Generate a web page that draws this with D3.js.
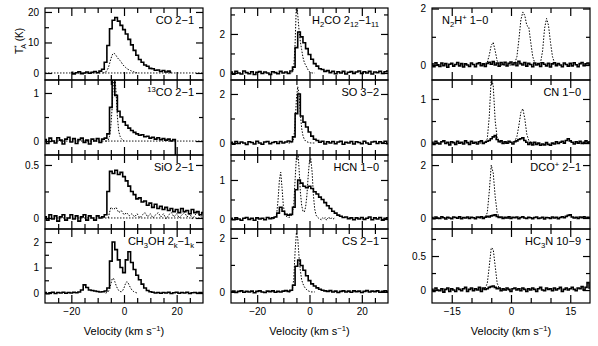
<!DOCTYPE html>
<html>
<head>
<meta charset="utf-8">
<script src="https://cdn.jsdelivr.net/npm/d3@7"></script>
<style>
  body { margin: 0; background: #fff; }
  svg { display: block; font-family: 'Liberation Sans', Arial, sans-serif; }
</style>
</head>
<body>
<div id="main"></div>
<script>
// tick labels on the velocity axes
const velLabels12 = [-20, 0, 20]
const velLabels3 = [-15, 0, 15]

// --- spectra (T_A* in K), solid = one position, dotted = the other ---
// CO 2-1, solid from -20 km/s, 1 km/s channels
const co21 = [0.2, -0.3, 0.1, 0.4, -0.2, 0.0, 0.3, -0.1, 0.2, 0.5,
  0.1, 0.6, 1.2, 3.5, 9.0, 14.5, 17.3, 18.2, 17.0, 15.6,
  14.2, 12.8, 11.0, 9.2, 7.4, 5.8, 4.4, 3.5, 2.6, 2.2,
  1.5, 1.4, 0.9, 1.0, 0.5, 0.8, 0.3, 0.6, 0.2]
// dotted from -8 km/s, 0.5 km/s
const co21Dot = [0, 0.1, 0.3, 0.8, 1.6, 3.0, 4.6, 5.9, 6.5, 6.3,
  5.7, 5.0, 4.5, 4.1, 3.5, 2.8, 2.3, 1.9, 1.5, 1.2,
  1.0, 0.8, 0.6, 0.45, 0.3, 0.15, 0]

// 13CO 2-1, solid from -30
const co13 = [0.03, -0.05, 0.06, 0.0, -0.04, 0.07, 0.02, -0.06, 0.04, 0.08,
  -0.02, 0.05, -0.05, 0.03, 0.06, -0.03, 0.02, -0.06, 0.04, 0.0,
  0.05, -0.03, 0.04, 0.06, 0.15, 0.7, 1.4, 0.95, 0.62, 0.5,
  0.4, 0.33, 0.27, 0.22, 0.18, 0.15, 0.12, 0.13, 0.09, 0.1,
  0.06, 0.08, 0.04, 0.07, 0.03, 0.05, 0.02, 0.04, 0.0, 0.03,
  -0.4]
const co13Dot = [0, 0, 0.02, 0.1, 0.3, 0.7, 1.3, 1.4, 1.0, 0.5, 0.2, 0.1, 0.05, 0.02, 0]

// SiO 2-1
const sio = [0.01, -0.02, 0.03, -0.01, 0.02, -0.03, 0.01, 0.03, -0.02, 0.0,
  0.03, -0.01, 0.02, -0.03, 0.01, 0.03, -0.02, 0.02, 0.0, -0.02,
  0.02, 0.0, 0.01, 0.03, 0.25, 0.44, 0.42, 0.45, 0.41, 0.43,
  0.39, 0.35, 0.30, 0.25, 0.22, 0.18, 0.19, 0.15, 0.16, 0.12,
  0.14, 0.1, 0.13, 0.09, 0.11, 0.08, 0.1, 0.07, 0.09, 0.06,
  0.08, 0.05, 0.09, 0.06, 0.07, 0.04, 0.08, 0.05, 0.06, 0.03,
  0.05]
// dotted from -6, 1 km/s
const sioDot = [0.0, 0.1, 0.08, 0.1, 0.05, 0.07, 0.03, 0.05, 0.02, 0.04,
  0.01, 0.04, 0.0, 0.03, 0.05, 0.01, 0.04, 0.0, 0.03, 0.05,
  0.01, 0.04, -0.01, 0.03, 0.05, 0.01, 0.04, 0.0, 0.03, 0.05,
  0.01, 0.04, -0.01, 0.03, 0.05, 0.01, 0.03]

// CH3OH 2k-1k
const ch3oh = [0.02, -0.03, 0.01, 0.03, -0.02, 0.02, 0.0, 0.03, -0.01, 0.02,
  0.0, 0.03, 0.01, 0.04, 0.12, 0.32, 0.22, 0.12, 0.1, 0.08,
  0.06, 0.04, 0.05, 0.08, 0.2, 1.25, 2.0, 1.7, 1.3, 1.0,
  0.8, 1.3, 1.62, 1.2, 0.92, 0.7, 0.52, 0.35, 0.2, 0.1,
  0.05, 0.03, 0.0, 0.02, -0.01, 0.02, 0.0, 0.03, -0.02, 0.01,
  0.03, -0.01, 0.02, 0.0, 0.03, -0.02, 0.01, 0.02, -0.01, 0.02,
  0.0]
// dotted from -7, 0.5 km/s
const ch3ohDot = [0, 0.02, 0.05, 0.15, 0.35, 0.55, 0.58, 0.45, 0.3, 0.18,
  0.1, 0.06, 0.05, 0.1, 0.2, 0.35, 0.44, 0.42, 0.3, 0.2,
  0.12, 0.07, 0.04, 0.02, 0]

// H2CO 2(12)-1(11)
const h2co = [0.05, -0.06, 0.08, 0.0, -0.05, 0.1, 0.02, -0.04, 0.06, -0.08,
  0.04, 0.07, -0.03, 0.05, 0.0, -0.07, 0.06, 0.02, -0.04, 0.08,
  0.0, 0.05, -0.03, 0.1, 0.3, 1.3, 2.1, 1.85, 1.55, 1.25,
  0.95, 0.7, 0.48, 0.35, 0.22, 0.18, 0.08, 0.12, 0.02, 0.09,
  -0.04, 0.06, 0.0, 0.08, -0.05, 0.04, 0.07, -0.02, 0.05, 0.1,
  -0.03, 0.06, 0.0, 0.08, -0.05, 0.05, 0.02, 0.09, -0.03, 0.06,
  0.1]
const h2coDot = [0, 0, 0, 0.05, 0.3, 1.5, 3.6, 3.0, 2.2, 1.6,
  1.2, 0.8, 0.55, 0.4, 0.28, 0.15, 0.06, 0.02, 0, 0, 0]

// SO 3-2
const so = [0.03, -0.05, 0.06, -0.02, 0.04, 0.0, -0.06, 0.05, 0.02, -0.04,
  0.07, 0.0, -0.05, 0.04, 0.06, -0.03, 0.02, 0.05, -0.02, 0.06,
  0.0, 0.04, 0.08, 0.05, 0.25, 1.2, 2.0, 1.1, 0.85, 0.65,
  0.45, 0.28, 0.15, 0.1, 0.03, 0.07, -0.04, 0.05, 0.0, 0.06,
  -0.03, 0.04, 0.07, -0.05, 0.03, 0.0, 0.06, -0.04, 0.05, 0.02,
  -0.03, 0.07, 0.0, -0.05, 0.04, 0.06, -0.02, 0.05, 0.0, 0.07,
  -0.03]
const soDot = [0, 0, 0, 0.05, 0.2, 0.8, 1.8, 2.3, 2.0, 1.2,
  0.6, 0.3, 0.15, 0.08, 0.05, 0.03, 0.02, 0, 0, 0, 0]

// HCN 1-0
const hcn = [0.02, -0.02, 0.03, 0.0, -0.03, 0.02, 0.04, -0.01, 0.02, -0.03,
  0.03, 0.0, 0.02, -0.02, 0.04, 0.01, 0.03, 0.05, 0.15, 0.3,
  0.2, 0.12, 0.1, 0.12, 0.3, 0.75, 1.0, 0.92, 0.84, 0.8,
  0.84, 0.78, 0.7, 0.64, 0.56, 0.5, 0.42, 0.34, 0.27, 0.2,
  0.15, 0.1, 0.07, 0.04, 0.05, 0.01, 0.03, -0.02, 0.03, 0.0,
  0.04, -0.01, 0.02, 0.05, -0.02, 0.03, 0.0, 0.04, -0.03, 0.02,
  0.03]
// dotted from -14, 0.5 km/s
const hcnDot = [0, 0.02, 0.05, 0.15, 0.5, 1.0, 1.2, 0.8, 0.35,
  0.15, 0.08, 0.05, 0.04, 0.05, 0.08, 0.15, 0.4, 1.0, 1.6,
  1.8, 1.3, 0.7, 0.35, 0.2, 0.18, 0.3, 0.6, 1.1, 1.5,
  1.55, 1.2, 0.6, 0.25, 0.1, 0.05, 0.02, 0.0, -0.02, 0.03,
  0.0, 0.04, -0.03, 0.02, 0.05, -0.01, 0.03, 0.0, 0.02, 0.0]

// CS 2-1
const cs = [0.0, 0.03, -0.02, 0.02, 0.04, -0.01, 0.02, 0.0, 0.03, -0.03,
  0.02, 0.04, 0.0, -0.02, 0.03, 0.01, 0.04, -0.01, 0.02, 0.0,
  0.03, 0.05, 0.02, 0.06, 0.25, 0.95, 1.18, 0.98, 0.8, 0.6,
  0.42, 0.3, 0.22, 0.15, 0.1, 0.06, 0.04, 0.02, 0.05, 0.0,
  0.03, -0.02, 0.02, 0.04, 0.0, 0.03, -0.01, 0.04, 0.01, 0.03,
  -0.02, 0.02, 0.05, 0.0, 0.03, 0.01, 0.04, -0.01, 0.02, 0.04,
  0.0]
const csDot = [0, 0, 0.02, 0.1, 0.5, 1.5, 2.2, 2.0, 1.3, 0.8,
  0.45, 0.3, 0.2, 0.12, 0.08, 0.04, 0.02, 0, 0, 0, 0]

// third column: solid from -20 km/s, 0.5 km/s channels
const n2h = [0.04, -0.06, 0.08, 0.01, -0.05, 0.07, -0.02, 0.05, -0.08, 0.03,
  0.06, -0.04, 0.02, 0.09, -0.03, 0.05, -0.07, 0.04, 0.0, -0.05,
  0.07, 0.02, -0.06, 0.05, 0.08, -0.02, 0.04, -0.05, 0.06, 0.1,
  0.03, 0.12, 0.0, 0.07, -0.04, 0.09, 0.02, 0.1, -0.03, 0.06,
  0.11, 0.01, 0.08, -0.02, 0.13, 0.05, 0.0, 0.09, -0.04, 0.06,
  0.02, -0.06, 0.07, 0.0, 0.05, -0.05, 0.08, 0.03, -0.03, 0.06,
  -0.07, 0.04, 0.08, -0.02, 0.05, 0.0, -0.06, 0.07, 0.02, -0.04,
  0.06, -0.03, 0.08, 0.01, -0.06, 0.05, 0.09, -0.02, 0.04, 0.07,
  0.0]
// dotted from -8, 0.5 km/s
const n2hDot = [0, 0, 0, 0.02, 0.1, 0.35, 0.7, 0.8, 0.5, 0.15,
  0.03, 0, 0, 0, 0, 0, 0, 0.02, 0.08, 0.3,
  0.9, 1.6, 1.88, 1.75, 1.4, 1.35, 0.8, 0.3, 0.08, 0.02,
  0.02, 0.1, 0.5, 1.3, 1.65, 1.4, 0.8, 0.3, 0.08, 0.02,
  0]

const cn = [0.02, -0.03, 0.04, 0.0, -0.02, 0.03, 0.05, -0.01, 0.02, -0.04,
  0.03, 0.01, -0.03, 0.04, 0.0, 0.02, -0.02, 0.05, 0.01, -0.03,
  0.04, 0.0, 0.02, -0.02, 0.03, 0.05, -0.01, 0.02, 0.04, 0.06,
  0.1, 0.14, 0.17, 0.08, 0.03, 0.05, -0.01, 0.03, 0.0, 0.04,
  0.02, -0.02, 0.03, 0.05, 0.08, 0.1, 0.12, 0.06, 0.02, -0.03,
  0.01, -0.04, 0.02, -0.03, 0.0, -0.05, -0.02, -0.04, 0.01, -0.03,
  -0.05, 0.0, -0.02, 0.03, -0.01, 0.02, 0.04, 0.0, 0.06, 0.1,
  0.05, 0.02, -0.02, 0.03, 0.0, 0.04, -0.01, 0.02, 0.05, 0.01,
  0.03]
const cnDot = [0, 0, 0, 0.02, 0.1, 0.6, 1.5, 1.3, 0.5, 0.12,
  0.03, 0, 0, 0, 0, 0, 0, 0.02, 0.05, 0.15,
  0.4, 0.7, 0.78, 0.55, 0.2, 0.06, 0.02, 0, 0]

const dco = [0.02, -0.03, 0.04, 0.0, -0.02, 0.05, 0.01, -0.04, 0.03, 0.0,
  -0.03, 0.04, 0.02, -0.01, 0.05, -0.03, 0.02, 0.0, 0.04, -0.02,
  0.03, 0.01, -0.03, 0.04, 0.02, 0.05, -0.02, 0.03, 0.06, 0.04,
  0.08, 0.1, 0.12, 0.06, 0.02, 0.04, -0.02, 0.03, 0.0, 0.05,
  -0.02, 0.03, 0.01, 0.04, -0.03, 0.02, 0.05, 0.0, -0.02, 0.03,
  0.01, -0.03, 0.02, 0.04, -0.02, 0.0, 0.03, -0.04, 0.02, 0.01,
  -0.02, 0.04, 0.0, 0.03, -0.03, 0.02, 0.05, 0.01, 0.06, 0.1,
  0.12, 0.04, 0.0, 0.03, -0.02, 0.04, 0.01, 0.05, -0.01, 0.03,
  0.0]
const dcoDot = [0, 0, 0.02, 0.05, 0.2, 1.0, 2.0, 1.7, 0.8, 0.2,
  0.05, 0.01, 0, 0, 0, 0, 0]

const hc3n = [0.01, -0.02, 0.03, 0.0, -0.01, 0.02, -0.03, 0.01, 0.03, -0.02,
  0.02, 0.0, -0.02, 0.03, 0.01, -0.01, 0.02, 0.04, -0.02, 0.01,
  0.03, -0.01, 0.02, 0.0, 0.04, -0.02, 0.03, 0.01, 0.02, 0.04,
  0.05, 0.06, 0.04, 0.02, 0.03, -0.01, 0.02, 0.0, 0.03, 0.01,
  -0.02, 0.02, 0.03, 0.0, 0.02, -0.01, 0.03, 0.01, -0.02, 0.02,
  0.0, 0.03, 0.01, -0.02, 0.02, 0.04, 0.0, -0.01, 0.03, 0.01,
  0.02, -0.01, 0.03, 0.0, 0.02, 0.04, -0.02, 0.01, 0.03, 0.0,
  0.02, 0.04, 0.01, -0.01, 0.03, 0.02, 0.05, 0.0, 0.04, 0.11,
  0.03]
const hc3nDot = [0, 0, 0.01, 0.03, 0.1, 0.35, 0.62, 0.6, 0.35, 0.1,
  0.03, 0.01, 0, 0, 0, 0, 0]

// layout
const columns = [
  { x0: 45, x1: 203, domain: [-30, 30], major: velLabels12, minor: [-25, -15, -10, -5, 5, 10, 15, 25], labels: velLabels12 },
  { x0: 231, x1: 388, domain: [-30, 30], major: velLabels12, minor: [-25, -15, -10, -5, 5, 10, 15, 25], labels: velLabels12 },
  { x0: 432, x1: 590, domain: [-20, 20], major: velLabels3, minor: [-10, -5, 5, 10], labels: velLabels3 }
]
const rows = [8, 80, 155, 229, 303]

// solid/dotted: [values, first velocity, channel width]
const panels = [
  { col: 0, row: 0, label: 'CO 2−1', y: [-2.3, 21.3], ticks: [0, 10, 20], minor: [5, 15], solid: [co21, -20, 1], dotted: [co21Dot, -8, 0.5], zero: true },
  { col: 0, row: 1, label: '^{13}CO 2−1', y: [-0.29, 1.27], ticks: [0, 1], minor: [0.5], solid: [co13, -30, 1], dotted: [co13Dot, -7, 0.5], zero: true },
  { col: 0, row: 2, label: 'SiO 2−1', y: [-0.104, 0.594], ticks: [0, 0.5], minor: [0.25], solid: [sio, -30, 1], dotted: [sioDot, -6, 1], zero: true },
  { col: 0, row: 3, label: 'CH_3OH 2_k−1_k', y: [-0.39, 2.51], ticks: [0, 1, 2], minor: [0.5, 1.5], solid: [ch3oh, -30, 1], dotted: [ch3ohDot, -7, 0.5] },
  { col: 1, row: 0, label: 'H_2CO 2_{12}−1_{11}', y: [-0.36, 3.33], ticks: [0, 2], minor: [1, 3], solid: [h2co, -30, 1], dotted: [h2coDot, -8, 0.5] },
  { col: 1, row: 1, label: 'SO 3−2', y: [-0.49, 2.57], ticks: [0, 2], minor: [1], solid: [so, -30, 1], dotted: [soDot, -8, 0.5] },
  { col: 1, row: 2, label: 'HCN 1−0', y: [-0.256, 1.64], ticks: [0, 1], minor: [0.5, 1.5], solid: [hcn, -30, 1], dotted: [hcnDot, -14, 0.5] },
  { col: 1, row: 3, label: 'CS 2−1', y: [-0.41, 2.33], ticks: [0, 2], minor: [1], solid: [cs, -30, 1], dotted: [csDot, -8, 0.5] },
  { col: 2, row: 0, label: 'N_2H^+ 1−0', y: [-0.53, 2.02], ticks: [0, 2], minor: [1], solid: [n2h, -20, 0.5], dotted: [n2hDot, -8, 0.5], left: true },
  { col: 2, row: 1, label: 'CN 1−0', y: [-0.27, 1.43], ticks: [0, 1], minor: [0.5], solid: [cn, -20, 0.5], dotted: [cnDot, -8, 0.5] },
  { col: 2, row: 2, label: 'DCO^+ 2−1', y: [-0.415, 2.38], ticks: [0, 2], minor: [1], solid: [dco, -20, 0.5], dotted: [dcoDot, -8, 0.5] },
  { col: 2, row: 3, label: 'HC_3N 10−9', y: [-0.19, 0.897], ticks: [0, 0.5], minor: [0.25, 0.75], solid: [hc3n, -20, 0.5], dotted: [hc3nDot, -8, 0.5] }
]

const fmt = d => (d < 0 ? '−' : '') + Math.abs(d)

// text with _sub and ^sup parts, e.g. 'H_2CO 2_{12}'
function richText (text, str, size) {
  const parts = str.match(/[_^](\{[^}]*\}|.)|[^_^]+/g)
  let shift = 0
  parts.forEach(s => {
    let mode = 0
    let t = s
    if (s[0] === '_' || s[0] === '^') {
      mode = s[0] === '_' ? 3 : -4
      t = s.slice(1).replace(/[{}]/g, '')
    }
    text.append('tspan')
      .attr('dy', mode - shift)
      .attr('font-size', mode ? size * 0.7 : size)
      .text(t)
    shift = mode
  })
}

const svg = d3.select('#main').append('svg')
  .attr('width', 598)
  .attr('height', 346)

const toPoints = ([vals, v0, dv]) => vals.map((t, k) => [v0 + k * dv, t])

panels.forEach((p, i) => {
  const c = columns[p.col]
  const top = rows[p.row]
  const bottom = rows[p.row + 1]
  const x = d3.scaleLinear().domain(c.domain).range([c.x0, c.x1])
  const y = d3.scaleLinear().domain(p.y).range([bottom, top])
  const g = svg.append('g')

  g.append('clipPath').attr('id', 'clip' + i)
    .append('rect')
    .attr('x', c.x0).attr('y', top)
    .attr('width', c.x1 - c.x0).attr('height', bottom - top)
  const plot = g.append('g').attr('clip-path', `url(#clip${i})`)

  if (p.zero) {
    plot.append('line')
      .attr('x1', x(c.domain[0])).attr('x2', x(c.domain[1]))
      .attr('y1', y(0)).attr('y2', y(0))
      .attr('stroke', '#000').attr('stroke-width', 0.9)
      .attr('stroke-dasharray', '1.5,1.5')
  }

  const line = d3.line().x(d => x(d[0])).y(d => y(d[1]))
  plot.append('path')
    .datum(toPoints(p.dotted))
    .attr('d', line)
    .attr('fill', 'none')
    .attr('stroke', '#000')
    .attr('stroke-width', 1)
    .attr('stroke-dasharray', '1.5,1.5')
  plot.append('path')
    .datum(toPoints(p.solid))
    .attr('d', line.curve(d3.curveStep))
    .attr('fill', 'none')
    .attr('stroke', '#000')
    .attr('stroke-width', 1.6)

  // axes: ticks point inwards on all four sides
  const clean = a => a.call(s => s.select('.domain').remove())
    .attr('font-family', null).attr('font-size', 10)
    .call(s => s.selectAll('line').attr('stroke-width', 1.2))
  const isBottom = p.row === rows.length - 2

  clean(g.append('g').attr('transform', `translate(0,${bottom})`)
    .call(d3.axisBottom(x).tickValues(c.major).tickSize(-8).tickPadding(5)
      .tickFormat(d => isBottom && c.labels.includes(d) ? fmt(d) : '')))
  clean(g.append('g').attr('transform', `translate(0,${bottom})`)
    .call(d3.axisBottom(x).tickValues(c.minor).tickSize(-5).tickFormat('')))
  clean(g.append('g').attr('transform', `translate(0,${top})`)
    .call(d3.axisTop(x).tickValues(c.major).tickSize(-8).tickFormat('')))
  clean(g.append('g').attr('transform', `translate(0,${top})`)
    .call(d3.axisTop(x).tickValues(c.minor).tickSize(-5).tickFormat('')))

  clean(g.append('g').attr('transform', `translate(${c.x0},0)`)
    .call(d3.axisLeft(y).tickValues(p.ticks).tickSize(-7).tickPadding(6).tickFormat(fmt)))
  clean(g.append('g').attr('transform', `translate(${c.x0},0)`)
    .call(d3.axisLeft(y).tickValues(p.minor).tickSize(-4).tickFormat('')))
  clean(g.append('g').attr('transform', `translate(${c.x1},0)`)
    .call(d3.axisRight(y).tickValues(p.ticks).tickSize(-7).tickFormat('')))
  clean(g.append('g').attr('transform', `translate(${c.x1},0)`)
    .call(d3.axisRight(y).tickValues(p.minor).tickSize(-4).tickFormat('')))

  g.append('rect')
    .attr('x', c.x0).attr('y', top)
    .attr('width', c.x1 - c.x0).attr('height', bottom - top)
    .attr('fill', 'none')
    .attr('stroke', '#000')
    .attr('stroke-width', 1.2)

  const label = g.append('text')
    .attr('x', p.left ? c.x0 + 10 : c.x1 - 9)
    .attr('y', top + 16)
    .attr('text-anchor', p.left ? 'start' : 'end')
    .attr('font-size', 11)
  richText(label, p.label, 11)
})

// axis titles
columns.forEach(c => {
  const t = svg.append('text')
    .attr('x', (c.x0 + c.x1) / 2)
    .attr('y', 335)
    .attr('text-anchor', 'middle')
    .attr('font-size', 11)
  richText(t, 'Velocity (km s^{−1})', 11)
})

const yTitle = svg.append('text')
  .attr('transform', 'translate(23,41) rotate(-90)')
  .attr('text-anchor', 'middle')
  .attr('font-size', 10)
yTitle.append('tspan').text('T')
yTitle.append('tspan').attr('font-size', 7).attr('dy', -4).text('*')
yTitle.append('tspan').attr('font-size', 7).attr('dy', 7).attr('dx', -3.5).text('A')
yTitle.append('tspan').attr('dy', -3).text(' (K)')
</script>
</body>
</html>
